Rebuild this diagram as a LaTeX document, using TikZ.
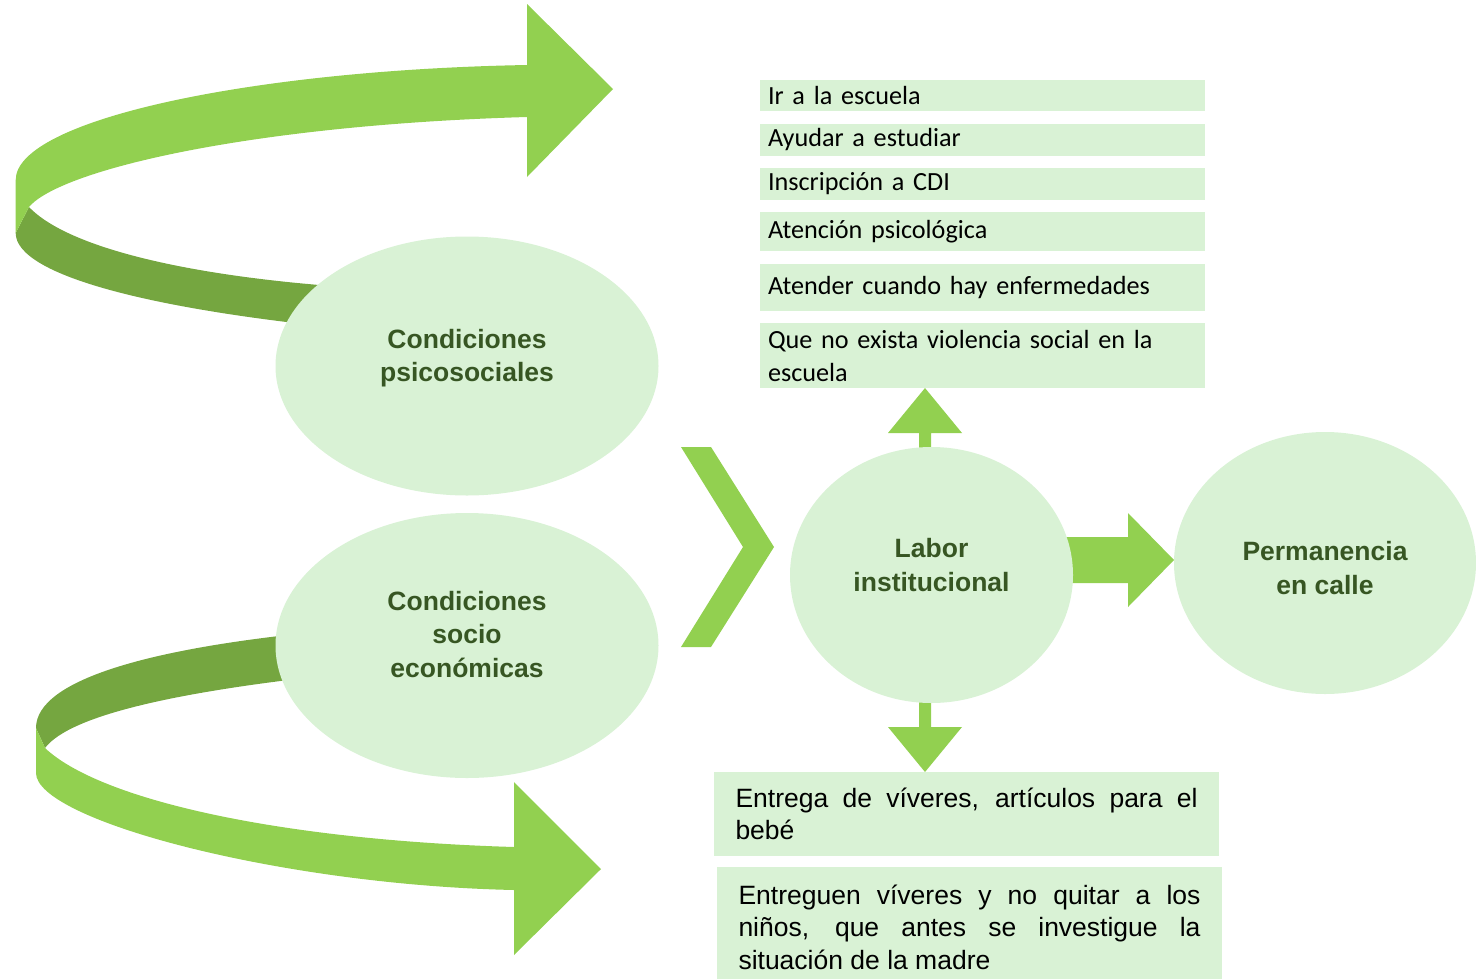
\documentclass[tikz,border=0pt]{standalone}
\usepackage{fontspec}
\setmainfont{Liberation Sans}
\newfontfamily\listfont{Carlito}[WordSpace=0.85]
\usepackage{tikz}
\usetikzlibrary{shapes.geometric}

\definecolor{hoja}{HTML}{D9F2D5}
\definecolor{flecha}{HTML}{92D050}
\definecolor{sombra}{HTML}{75A640}
\definecolor{texto}{HTML}{375623}

\begin{document}
\begin{tikzpicture}[x=1pt, y=-1pt,
    elipse/.style={ellipse, fill=hoja, inner sep=0pt},
    titulo/.style={font=\bfseries\fontsize{26.5}{33.5}\selectfont, text=texto, align=center},
    caja/.style={fill=hoja, font=\listfont\fontsize{26.2}{33}\selectfont, text width=429, inner xsep=8, inner ysep=0, align=left},
    bloque/.style={fill=hoja, font=\fontsize{26.5}{32.5}\selectfont, text width=462, inner xsep=21.5, inner ysep=0, align=justify}]
  \useasboundingbox (0,0) rectangle (1476,978);

  % Cinta de arriba
  \fill[sombra] (29,207) -- (15.7,233) .. controls (15.7,275) and (150,310) .. (360,330)
    -- (360,288) .. controls (200,278) and (70,250) .. (29,207) -- cycle;
  \fill[flecha] (527,65) -- (527,4) -- (613,89) -- (527,177) -- (527,117)
    .. controls (250,125) and (60,170) .. (29,207) -- (15.7,233) -- (15.7,180)
    .. controls (15.7,120) and (250,70) .. (527,65) -- cycle;

  % Cinta de abajo
  \fill[sombra] (45,748) -- (36,728) .. controls (36,680) and (150,645) .. (360,628)
    -- (360,672) .. controls (180,690) and (70,715) .. (45,748) -- cycle;
  \fill[flecha] (514,847) -- (514,782) -- (601,869) -- (514,955) -- (514,890)
    .. controls (280,885) and (36,820) .. (36,773) -- (36,728) -- (45,748)
    .. controls (100,800) and (280,840) .. (514,847) -- cycle;

  % Flechas del centro
  \fill[flecha] (681,447) -- (711,447) -- (774,547) -- (711,647) -- (681,647) -- (743,547) -- cycle;
  \fill[flecha] (919,450) -- (919,433) -- (888,433) -- (925,388) -- (962,433) -- (931,433) -- (931,450) -- cycle;
  \fill[flecha] (919,700) -- (919,727) -- (888,727) -- (925,772) -- (962,727) -- (931,727) -- (931,700) -- cycle;
  \fill[flecha] (1060,537) -- (1128,537) -- (1128,513) -- (1174,560) -- (1128,607) -- (1128,583) -- (1060,583) -- cycle;

  % Elipses
  \node[elipse, minimum width=383, minimum height=259] (psico) at (467,366) {};
  \node[titulo] (psicoT) at ([yshift=8pt]psico.center) {Condiciones\\psicosociales};
  \node[elipse, minimum width=383, minimum height=265] (socio) at (467,645.5) {};
  \node[titulo] (socioT) at ([yshift=11pt]socio.center) {Condiciones\\socio\\económicas};
  \node[elipse, minimum width=283, minimum height=256] (labor) at (931.5,575) {};
  \node[titulo] (laborT) at ([yshift=10pt]labor.center) {Labor\\institucional};
  \node[elipse, minimum width=302, minimum height=262] (perm) at (1325,563) {};
  \node[titulo] (permT) at ([yshift=-5pt]perm.center) {Permanencia\\en calle};

  % Lista de arriba
  \node[caja, minimum height=31] (ir) at (982.5,95.5) {Ir a la escuela};
  \node[caja, minimum height=32] (ayudar) at (982.5,139.5) {Ayudar a estudiar};
  \node[caja, minimum height=32] (inscripcion) at (982.5,184) {Inscripción a CDI};
  \node[caja, minimum height=39] (atencion) at (982.5,231.5) {Atención psicológica};
  \node[caja, minimum height=47] (atender) at (982.5,287.5) {Atender cuando hay enfermedades};
  \node[caja, minimum height=65] (violencia) at (982.5,355.5) {Que no exista violencia social en la escuela};

  % Cajas de abajo
  \node[bloque, minimum height=84] (entrega) at (966.5,814) {Entrega de víveres, artículos para el\linebreak bebé};
  \node[bloque, minimum height=120] (entreguen) at (969.5,927) {Entreguen víveres y no quitar a los\linebreak niños, que antes se investigue la\linebreak situación de la madre};
\end{tikzpicture}
\end{document}
